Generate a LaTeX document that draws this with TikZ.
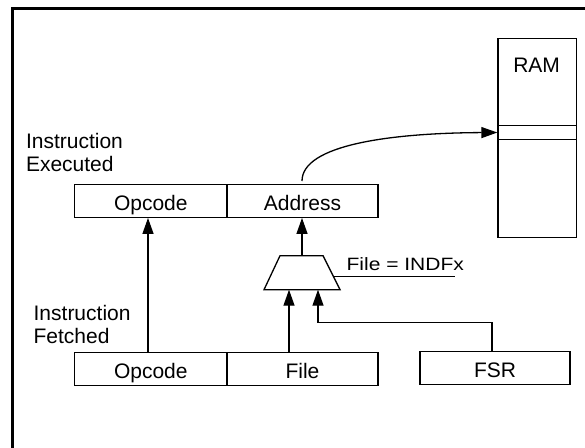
\documentclass[tikz,border=0pt]{standalone}
\usepackage{fontspec}
\setmainfont{Liberation Sans}
\usetikzlibrary{arrows.meta}
\begin{document}
\begin{tikzpicture}[x=1pt,y=-1pt,line width=1.3pt,
  txt/.style={font=\fontsize{21}{23.3}\selectfont, inner sep=0pt},
  cell/.style={draw, rectangle, inner sep=0pt, font=\fontsize{21}{23.3}\selectfont, minimum height=33pt, text height=20pt, text depth=1pt},
  arr/.style={-{Triangle[length=16pt,width=11pt]}}]
\useasboundingbox (0,0) rectangle (585,447);
\clip (0,0) rectangle (585,447);
% frame
\draw[line width=3pt] (12.5,470) -- (12.5,8) -- (600,8);
% instruction executed
\node[cell, minimum width=152.4pt] (opE) at (150.8,200.8) {Opcode};
\node[cell, minimum width=151pt] (adE) at (302.5,200.8) {Address};
% instruction fetched
\node[cell, minimum width=152.4pt] (opF) at (150.8,368.7) {Opcode};
\node[cell, minimum width=151pt] (fiF) at (302.5,368.7) {File};
% FSR
\node[cell, minimum width=150pt, minimum height=32.6pt] (fsr) at (495,368) {FSR};
% RAM
\node[draw, rectangle, inner sep=0pt, minimum width=78.5pt, minimum height=199pt] (ram) at (537.25,137.8) {};
\node[draw, rectangle, inner sep=0pt, minimum width=78.5pt, minimum height=14.4pt] (slot) at (537.25,132.5) {};
\node[txt] (ramlbl) at (536.6,65.7) {RAM};
% labels
\node[txt, align=left, anchor=west] (lblE) at (25.4,152.7) {Instruction\\Executed};
\node[txt, align=left, anchor=west] (lblF) at (33,324.7) {Instruction\\Fetched};
% mux
\draw (280,255.7) coordinate (mtl) -- (323,255.7) coordinate (mtr) -- (340,289.7) coordinate (mbr) -- (264,289.7) coordinate (mbl) -- cycle;
\coordinate (mt) at (302,255.7);
\coordinate (mb1) at (289,289.7);
\coordinate (mb2) at (318,289.7);
\coordinate (ms) at (333.3,276.3);
\coordinate (selend) at (454.5,276.3);
\draw (ms) -- (selend);
\node[txt, anchor=base west] (sel) at (346,270.7) {\scalebox{1}[0.85]{File = INDFx}};
% arrows
\draw[arr] (opF.north -| 148,0) -- (opE.south -| 148,0);
\draw[arr] (fiF.north -| mb1) -- (mb1);
\draw[arr] (fsr.north -| 492,0) |- (318,322.3) -- (mb2);
\draw[arr] (mt) -- (adE.south -| mt);
\draw[arr] (302,181) .. controls (302,145) and (390,133) .. (slot.west);
\end{tikzpicture}
\end{document}
